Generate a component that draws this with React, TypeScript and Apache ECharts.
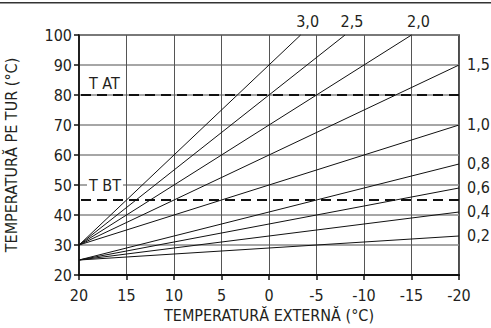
import React, { useEffect, useRef } from "react";
import * as echarts from "echarts";

// Heating curves: outdoor temperature (x) vs flow temperature (y)
const curveNames = ["3,0", "2,5", "2,0", "1,5", "1,0", "0,8", "0,6", "0,4", "0,2"];
const startExt = [20, 20, 20, 20, 20, 20, 20, 20, 20];
const startTemp = [30, 30, 30, 30, 30, 25, 25, 25, 25];
const endExt = [-3.33, -8, -15, -20, -20, -20, -20, -20, -20];
const endTemp = [100, 100, 100, 90, 70, 57, 49, 41, 33];
const refLines = [
  { name: "T AT", value: 80 },
  { name: "T BT", value: 45 },
];

const FONT = "'Liberation Sans Narrow', 'DejaVu Sans Condensed', 'Roboto Condensed', sans-serif";
const TXT = "#231f20";

export default function App() {
  const ref = useRef<HTMLDivElement>(null);
  useEffect(() => {
    if (!ref.current) return;
    const chart = echarts.init(ref.current, undefined, { renderer: "svg" });

    const curveSeries = curveNames.map((name, i) => {
      const atTop = endTemp[i] >= 100;
      return {
        type: "line",
        name,
        data: [
          [startExt[i], startTemp[i]],
          {
            value: [endExt[i], endTemp[i]],
            label: {
              show: true,
              formatter: name,
              position: atTop ? "top" : "right",
              distance: atTop ? 6 : 8,
              offset: atTop ? [7, 0] : [0, -1],
              fontFamily: FONT,
              fontSize: 16,
              color: TXT,
            },
          },
        ],
        symbol: "circle",
        symbolSize: 0,
        showSymbol: true,
        lineStyle: { color: "#111", width: 1 },
        itemStyle: { color: "#111" },
        clip: false,
        silent: true,
        z: 3,
      };
    });

    const markSeries = {
      type: "line",
      data: [],
      silent: true,
      z: 4,
      markLine: {
        symbol: "none",
        silent: true,
        lineStyle: { type: [10, 6], color: "#111", width: 2 },
        data: refLines.map((r) => ({
          yAxis: r.value,
          label: {
            show: true,
            formatter: r.name,
            position: "insideEndTop",
            distance: r.value < 60 ? [8, 7] : [8, 4],
            fontFamily: FONT,
            fontSize: 16,
            color: TXT,
            backgroundColor: "#fff",
            padding: [0, 2, 0, 2],
          },
        })),
      },
    };

    chart.setOption({
      animation: false,
      textStyle: { fontFamily: FONT },
      grid: {
        left: 79,
        right: 32,
        top: 35,
        bottom: 53,
        containLabel: false,
        outerBoundsMode: "none",
        show: true,
        borderColor: "#111",
        borderWidth: 1.5,
        backgroundColor: "transparent",
      },
      graphic: [
        {
          type: "rect",
          left: 0,
          top: 2,
          shape: { width: 491, height: 1.5 },
          style: { fill: "#333" },
        },
      ],
      xAxis: {
        type: "value",
        inverse: true,
        min: -20,
        max: 20,
        interval: 5,
        name: "TEMPERATURĂ EXTERNĂ (°C)",
        nameLocation: "middle",
        nameGap: 29,
        nameTextStyle: { fontFamily: FONT, fontSize: 16, color: TXT },
        axisLine: { onZero: false, lineStyle: { color: "#111", width: 2 } },
        axisTick: { show: true, length: 5, lineStyle: { color: "#111", width: 1.5 } },
        axisLabel: { fontFamily: FONT, fontSize: 16, color: TXT, margin: 12 },
        splitLine: { show: true, lineStyle: { color: "#555", width: 1 } },
      },
      yAxis: {
        type: "value",
        min: 20,
        max: 100,
        interval: 10,
        name: "TEMPERATURĂ PE TUR (°C)",
        nameLocation: "middle",
        nameGap: 60,
        nameTextStyle: { fontFamily: FONT, fontSize: 16, color: TXT },
        axisLine: { show: true, onZero: false, lineStyle: { color: "#111", width: 1.5 } },
        axisTick: { show: true, length: 5, lineStyle: { color: "#111", width: 1.5 } },
        axisLabel: { fontFamily: FONT, fontSize: 16, color: TXT, margin: 7 },
        splitLine: { show: true, lineStyle: { color: "#888", width: 1.5 } },
      },
      series: [...curveSeries, markSeries],
    });
    return () => chart.dispose();
  }, []);
  return <div ref={ref} style={{ width: 491, height: 328, position: "absolute", left: 0, top: 0 }} />;
}
